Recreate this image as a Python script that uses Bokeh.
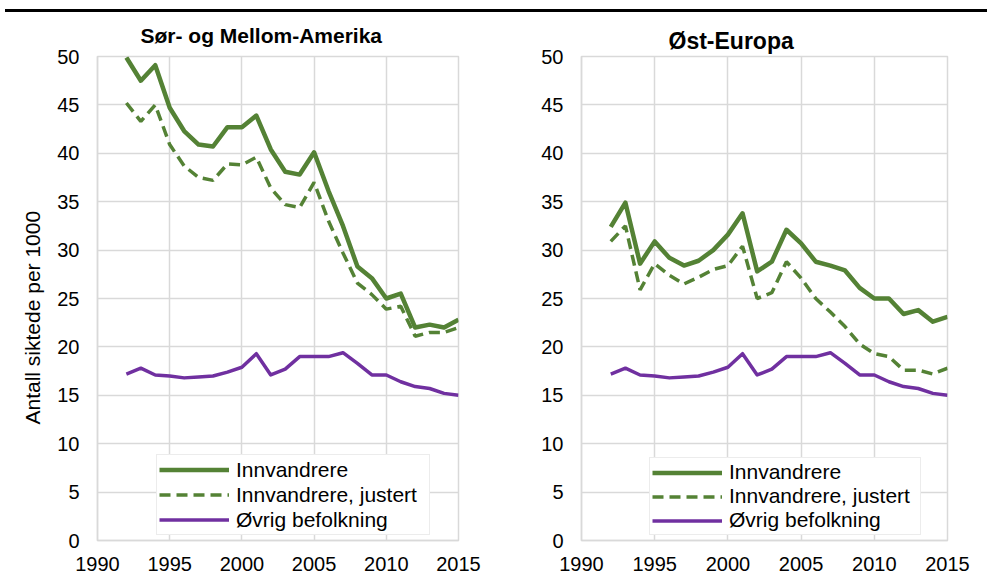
import math
from bokeh.plotting import figure
from bokeh.models import Legend, LegendItem, Div, FixedTicker, Range1d, Title
from bokeh.layouts import column, row
from bokeh.embed import file_html
from bokeh.resources import INLINE

years = list(range(1992, 2016))
sma_innv = [49.9, 47.5, 49.1, 44.7, 42.3, 40.9, 40.7, 42.7, 42.7, 43.9, 40.4, 38.1,
            37.8, 40.1, 36.1, 32.5, 28.3, 27.1, 25.0, 25.5, 22.0, 22.3, 22.0, 22.8]
sma_just = [45.2, 43.3, 45.0, 40.9, 38.7, 37.5, 37.2, 38.9, 38.8, 39.6, 36.4, 34.7,
            34.4, 37.0, 33.0, 29.7, 26.6, 25.4, 23.9, 24.2, 21.1, 21.5, 21.5, 22.0]
ost_innv = [32.4, 34.9, 28.6, 30.9, 29.2, 28.4, 28.9, 30.0, 31.6, 33.8, 27.8, 28.8,
            32.1, 30.7, 28.8, 28.4, 27.9, 26.1, 25.0, 25.0, 23.4, 23.8, 22.6, 23.1]
ost_just = [30.9, 32.5, 25.9, 28.6, 27.4, 26.5, 27.2, 28.0, 28.4, 30.4, 25.0, 25.6,
            28.8, 27.1, 25.0, 23.6, 22.1, 20.3, 19.3, 19.0, 17.6, 17.6, 17.2, 17.8]
ovrig = [17.2, 17.8, 17.1, 17.0, 16.8, 16.9, 17.0, 17.4, 17.9, 19.3, 17.1, 17.7,
         19.0, 19.0, 19.0, 19.4, 18.3, 17.1, 17.1, 16.4, 15.9, 15.7, 15.2, 15.0]

x_ticks = [1990, 1995, 2000, 2005, 2010, 2015]
y_ticks = [0, 5, 10, 15, 20, 25, 30, 35, 40, 45, 50]
series_names = ["Innvandrere", "Innvandrere, justert", "Øvrig befolkning"]
y_label = "Antall siktede per 1000"

GREEN = "#548235"
PURPLE = "#7030A0"
GRID = "#d9d9d9"
FONT = "Liberation Sans"


def make_panel(title, innv, just, *, frame_w, border_left, border_right,
               title_size, title_offset, title_standoff, title_valign,
               legend_loc, row_h, label_w, ylabel=False):
    p = figure(frame_width=frame_w, frame_height=484,
               min_border_left=border_left, min_border_right=border_right,
               min_border_top=44, min_border_bottom=39,
               x_range=Range1d(1990, 2015), y_range=Range1d(0, 50),
               output_backend="svg", toolbar_location=None,
               background_fill_color="white", border_fill_color="white")
    p.title = Title(text=title, align="left", offset=title_offset,
                    standoff=title_standoff, vertical_align=title_valign,
                    text_font=FONT, text_font_size=title_size,
                    text_font_style="bold", text_color="black")
    p.outline_line_color = GRID
    p.outline_line_width = 1.5
    for ax, ticks in ((p.xaxis[0], x_ticks), (p.yaxis[0], y_ticks)):
        ax.ticker = FixedTicker(ticks=ticks)
        ax.major_tick_line_color = None
        ax.minor_tick_line_color = None
        ax.major_tick_out = 0
        ax.major_tick_in = 0
        ax.axis_line_color = GRID
        ax.axis_line_width = 1.5
        ax.major_label_text_font = FONT
        ax.major_label_text_font_size = "20px"
        ax.major_label_text_color = "black"
    p.xaxis[0].major_label_standoff = 16
    p.yaxis[0].major_label_standoff = 18
    p.xgrid[0].ticker = FixedTicker(ticks=x_ticks)
    p.ygrid[0].ticker = FixedTicker(ticks=y_ticks)
    for g in (p.xgrid[0], p.ygrid[0]):
        g.grid_line_color = GRID
        g.grid_line_width = 1.5

    r1 = p.line(years, innv, line_color=GREEN, line_width=4.5, line_join="round")
    r2 = p.line(years, just, line_color=GREEN, line_width=3.5, line_dash="11 6")
    r3 = p.line(years, ovrig, line_color=PURPLE, line_width=3.5, line_join="round")

    legend = Legend(items=[LegendItem(label=series_names[0], renderers=[r1]),
                           LegendItem(label=series_names[1], renderers=[r2]),
                           LegendItem(label=series_names[2], renderers=[r3])],
                    location=legend_loc, orientation="vertical",
                    label_text_font=FONT, label_text_font_size="21px",
                    label_text_color="black",
                    glyph_width=70, glyph_height=row_h, label_height=row_h,
                    label_width=label_w, label_standoff=7, spacing=0,
                    padding=2, margin=0,
                    border_line_color=GRID, border_line_width=1.5,
                    background_fill_color="white", background_fill_alpha=1.0)
    p.add_layout(legend, "center")

    if ylabel:
        p.add_layout(Title(text=y_label, align="left", offset=116, standoff=22,
                           text_font=FONT, text_font_size="21px",
                           text_font_style="normal", text_color="black"), "left")
    return p


left = make_panel("Sør- og Mellom-Amerika", sma_innv, sma_just,
                  frame_w=361, border_left=97, border_right=34,
                  title_size="21px", title_offset=43, title_standoff=16,
                  title_valign="top",
                  legend_loc=(59, 5), row_h=25, label_w=191, ylabel=True)
right = make_panel("Øst-Europa", ost_innv, ost_just,
                   frame_w=366, border_left=89, border_right=40,
                   title_size="23px", title_offset=87, title_standoff=6,
                   title_valign="bottom",
                   legend_loc=(68, 5), row_h=23, label_w=189)

rule = Div(text="", width=982, height=3, margin=(9, 0, 0, 5),
           styles={"background-color": "black"})

layout = column(rule, row(left, right), spacing=0)

with open("out.html", "w") as f:
    f.write(file_html(layout, INLINE))
